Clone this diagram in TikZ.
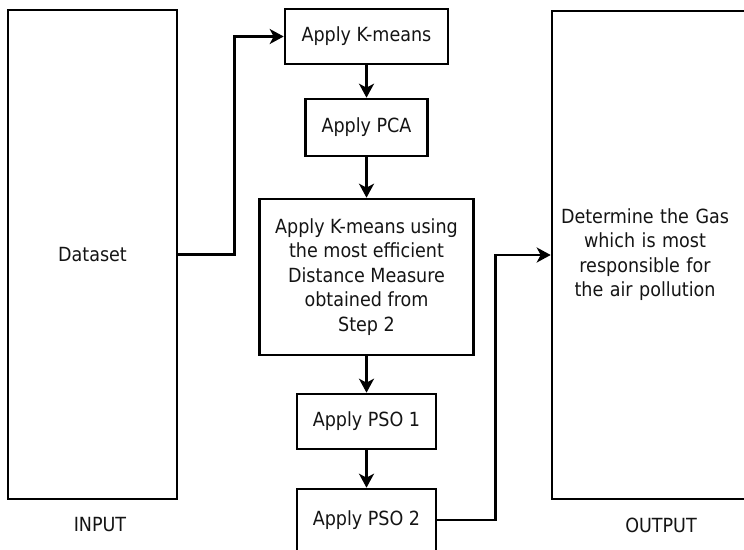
\documentclass[tikz,border=0pt]{standalone}
\usepackage{fontspec}
\setmainfont{DejaVu Sans Condensed}
\usetikzlibrary{arrows.meta}
\definecolor{ink}{rgb}{0.08,0.08,0.08}
\tikzset{
  box/.style={draw=black, line width=2.6pt, rectangle, inner sep=0pt, align=center,
    text=ink, font=\fontsize{19.5}{24.5}\selectfont},
  lbl/.style={text=ink, font=\fontsize{19.5}{24.5}\selectfont, inner sep=0pt},
  arr/.style={line width=2.6pt, -{Stealth[length=14pt, width=15pt, inset=4pt]}},
}
\begin{document}
\begin{tikzpicture}[x=1pt, y=-1pt]
\useasboundingbox (0,0) rectangle (744,549);
\clip (0,0) rectangle (744,549);

% input and output columns
\node[box, minimum width=169pt, minimum height=489pt] (data) at (92.5,254.5) {Dataset};
\node[box, minimum width=210pt, minimum height=488pt, text width=190pt] (out) at (657,255)
  {\hspace*{-24pt}\begin{tabular}{@{}c@{}}Determine the Gas\\which is most\\responsible for\\the air pollution\end{tabular}};
\node[lbl] (inlbl) at (100,525) {INPUT};
\node[lbl] (outlbl) at (661,525) {OUTPUT};

% processing steps
\node[box, minimum width=163pt, minimum height=55pt] (km) at (366.5,36.5) {Apply K-means};
\node[box, minimum width=122pt, minimum height=57pt] (pca) at (366.5,127.5) {Apply PCA};
\node[box, minimum width=214pt, minimum height=156pt] (big) at (366.5,277)
  {Apply K-means using\\the most efficient\\Distance Measure\\obtained from\\Step 2};
\node[box, minimum width=139pt, minimum height=55pt] (pso1) at (366.5,421.5) {Apply PSO 1};
\node[box, minimum width=139pt, minimum height=62pt] (pso2) at (366.5,520) {Apply PSO 2};

% connectors
\draw[arr] (data.east) -- ++(56,0) |- (km.west);
\draw[arr] (km) -- (pca);
\draw[arr] (pca) -- (big);
\draw[arr] (big) -- (pso1);
\draw[arr] (pso1) -- (pso2);
\draw[arr] (pso2.east) -- ++(58,0) |- (out.west);
\end{tikzpicture}
\end{document}
